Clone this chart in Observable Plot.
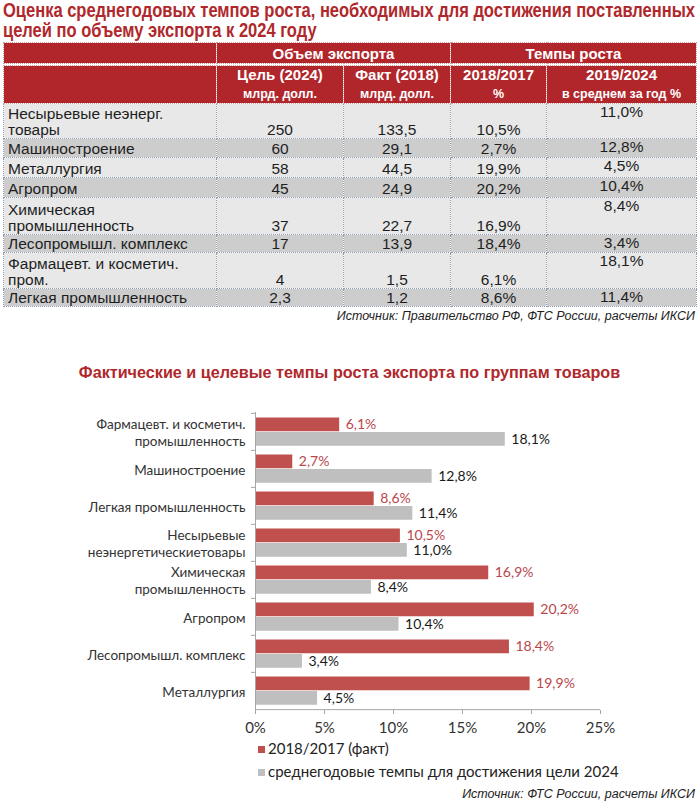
<!DOCTYPE html>
<html><head><meta charset="utf-8">
<script src="https://cdn.jsdelivr.net/npm/d3@7"></script>
<script src="https://cdn.jsdelivr.net/npm/@observablehq/plot@0.6"></script>
<style>
body{margin:0;width:699px;height:804px;position:relative;background:#fff;overflow:hidden;}
#title{position:absolute;left:3px;top:0px;font-family:"Liberation Sans",Arial,sans-serif;font-weight:bold;font-size:19.5px;line-height:20px;color:#b0282c;white-space:nowrap;}
#title span{display:inline-block;transform-origin:0 50%;}
#tbl{position:absolute;left:3px;top:42px;}
table{border-collapse:collapse;table-layout:fixed;font-family:"Liberation Sans",Arial,sans-serif;}
td{padding:0;border:1px dotted #8d9bb0;overflow:hidden;white-space:pre-line;}
tr.h td{background:#b1262b;color:#fff;font-weight:bold;text-align:center;border-color:#d9a0a0;}
tr.h1 td{height:20px;font-size:15px;line-height:17px;vertical-align:middle;}
tr.sep td{height:1px;background:#fff;border:none;}
tr.h2 td{height:36px;font-size:15px;line-height:18px;vertical-align:middle;}
tr.h2 td span{font-size:12.5px;}
tr.d td{font-size:15.5px;line-height:16px;color:#1e1e1e;text-align:center;vertical-align:bottom;}
tr.d td.n{text-align:left;padding-left:4px;}
tr.d td.t{vertical-align:top;}
tr.light td{background:#e8e8e8;}
tr.dark td{background:#cdcdcd;}
.src{position:absolute;right:4px;font-family:"Liberation Sans",Arial,sans-serif;font-style:italic;font-size:12.5px;color:#222;}
#ctitle{position:absolute;left:0;width:699px;top:363px;text-align:center;font-family:"Liberation Sans",Arial,sans-serif;font-weight:bold;font-size:16.2px;color:#b0282c;}
#chart{position:absolute;left:0;top:395px;}
.leg{position:absolute;left:258px;font-family:Lato,sans-serif;font-size:15px;color:#222;line-height:18px;}
.leg i{display:inline-block;width:7px;height:7px;margin-right:3px;vertical-align:1px;}
</style></head><body>
<div id="title"><span id="t1">Оценка среднегодовых темпов роста, необходимых для достижения поставленных</span><br><span id="t2">целей по объему экспорта к 2024 году</span></div>
<div id="tbl"></div>
<div class="src" style="top:309px">Источник: Правительство РФ, ФТС России, расчеты ИКСИ</div>
<div id="ctitle">Фактические и целевые темпы роста экспорта по группам товаров</div>
<div id="chart"></div>
<div class="leg" style="top:739px"><i style="background:#c0504d"></i>2018/2017 (факт)</div>
<div class="leg" style="top:762px"><i style="background:#bfbfbf"></i>среднегодовые темпы для достижения цели 2024</div>
<div class="src" style="top:787px">Источник: ФТС России, расчеты ИКСИ</div>
<script>
// ---- Table data ----
const tableCategories = ["Несырьевые неэнерг.\nтовары", "Машиностроение", "Металлургия", "Агропром", "Химическая\nпромышленность", "Лесопромышл. комплекс", "Фармацевт. и косметич.\nпром.", "Легкая промышленность"];
const goal2024 = [250, 60, 58, 45, 37, 17, 4, 2.3];
const fact2018 = [133.5, 29.1, 44.5, 24.9, 22.7, 13.9, 1.5, 1.2];
const growth2018 = [10.5, 2.7, 19.9, 20.2, 16.9, 18.4, 6.1, 8.6];
const growth2024 = [11.0, 12.8, 4.5, 10.4, 8.4, 3.4, 18.1, 11.4];
const groupHeaders = ["", "Объем экспорта", "Темпы роста"];
const colHeaders = ["", "Цель (2024)", "Факт (2018)", "2018/2017", "2019/2024"];
const colUnits = ["", "млрд. долл.", "млрд. долл.", "%", "в среднем за год %"];

// ---- Chart data ----
const chartCategories = ["Фармацевт. и косметич.\nпромышленность", "Машиностроение", "Легкая промышленность", "Несырьевые\nнеэнергетическиетовары", "Химическая\nпромышленность", "Агропром", "Лесопромышл. комплекс", "Металлургия"];
const chartActual = [6.1, 2.7, 8.6, 10.5, 16.9, 20.2, 18.4, 19.9];
const chartTarget = [18.1, 12.8, 11.4, 11.0, 8.4, 10.4, 3.4, 4.5];
const xTicks = [0, 5, 10, 15, 20, 25];

const num = v => String(v).replace(".", ",");
const pct = v => v.toFixed(1).replace(".", ",") + "%";

// title: condense horizontally to the reference's narrow face
const t1 = document.getElementById("t1"), t2 = document.getElementById("t2");
const sx = 692 / t1.getBoundingClientRect().width;
t1.style.transform = `scaleX(${sx})`;
t2.style.transform = `scaleX(${sx})`;

// build table
const colW = [213, 127, 107, 96, 150];
const rowH = [34, 18, 19, 19, 36, 17, 35, 17];
let html = '<table style="width:693px"><colgroup>' + colW.map(w => `<col style="width:${w}px">`).join("") + '</colgroup>';
html += `<tr class="h h1"><td></td><td colspan="2">${groupHeaders[1]}</td><td colspan="2">${groupHeaders[2]}</td></tr>`;
html += '<tr class="sep"><td colspan="5"></td></tr>';
html += '<tr class="h h2">' + colHeaders.map((h, i) => `<td>${h}${i ? "<br><span>" + colUnits[i] + "</span>" : ""}</td>`).join("") + '</tr>';
tableCategories.forEach((c, i) => {
  html += `<tr class="d ${i % 2 ? "dark" : "light"}"><td class="n" style="height:${rowH[i]}px">${c}</td><td>${num(goal2024[i])}</td><td>${num(fact2018[i])}</td><td>${pct(growth2018[i])}</td><td class="t">${pct(growth2024[i])}</td></tr>`;
});
html += '</table>';
document.getElementById("tbl").innerHTML = html;

// build chart
const rows = chartCategories.map((c, i) => ({cat: c, actual: chartActual[i], target: chartTarget[i]}));
const H = 345, mT = 17, mB = 30;
const step = (H - mT - mB) / chartCategories.length;
const axisGray = "#a6a6a6";
const chart = Plot.plot({
  width: 699, height: H, marginTop: mT, marginBottom: mB, marginLeft: 255, marginRight: 99,
  style: {fontFamily: "Lato, sans-serif", fontSize: "14px", color: "#333", background: "transparent"},
  x: {domain: [0, 25], axis: null},
  y: {domain: chartCategories, padding: 0, axis: null},
  marks: [
    Plot.barX(rows, {x: "actual", y: "cat", fill: "#c0504d", insetTop: 4.5, insetBottom: step - 18.5}),
    Plot.barX(rows, {x: "target", y: "cat", fill: "#bfbfbf", insetTop: 19, insetBottom: step - 33}),
    Plot.text(rows, {x: "actual", y: "cat", text: d => pct(d.actual), dx: 6, dy: 11 - step / 2, textAnchor: "start", fill: "#b8474b", fontSize: 14}),
    Plot.text(rows, {x: "target", y: "cat", text: d => pct(d.target), dx: 6, dy: 26.5 - step / 2, textAnchor: "start", fill: "#1a1a1a", fontSize: 14}),
    Plot.text(rows, {y: "cat", text: "cat", frameAnchor: "left", textAnchor: "end", dx: -10, lineHeight: 1.3, fontSize: 13.5, fill: "#333"}),
    Plot.ruleY(rows, {y: "cat", dy: -step / 2, x1: 0, x2: 0, insetLeft: -4, stroke: axisGray}),
    Plot.ruleX([0], {stroke: axisGray}),
    Plot.ruleY([chartCategories[chartCategories.length - 1]], {dy: step / 2, stroke: axisGray}),
    Plot.axisX(xTicks, {tickFormat: d => d + "%", tickSize: 4, tickPadding: 8, stroke: axisGray, fill: "#333", fontSize: 15})
  ]
});
document.getElementById("chart").appendChild(chart);
</script>
</body></html>
